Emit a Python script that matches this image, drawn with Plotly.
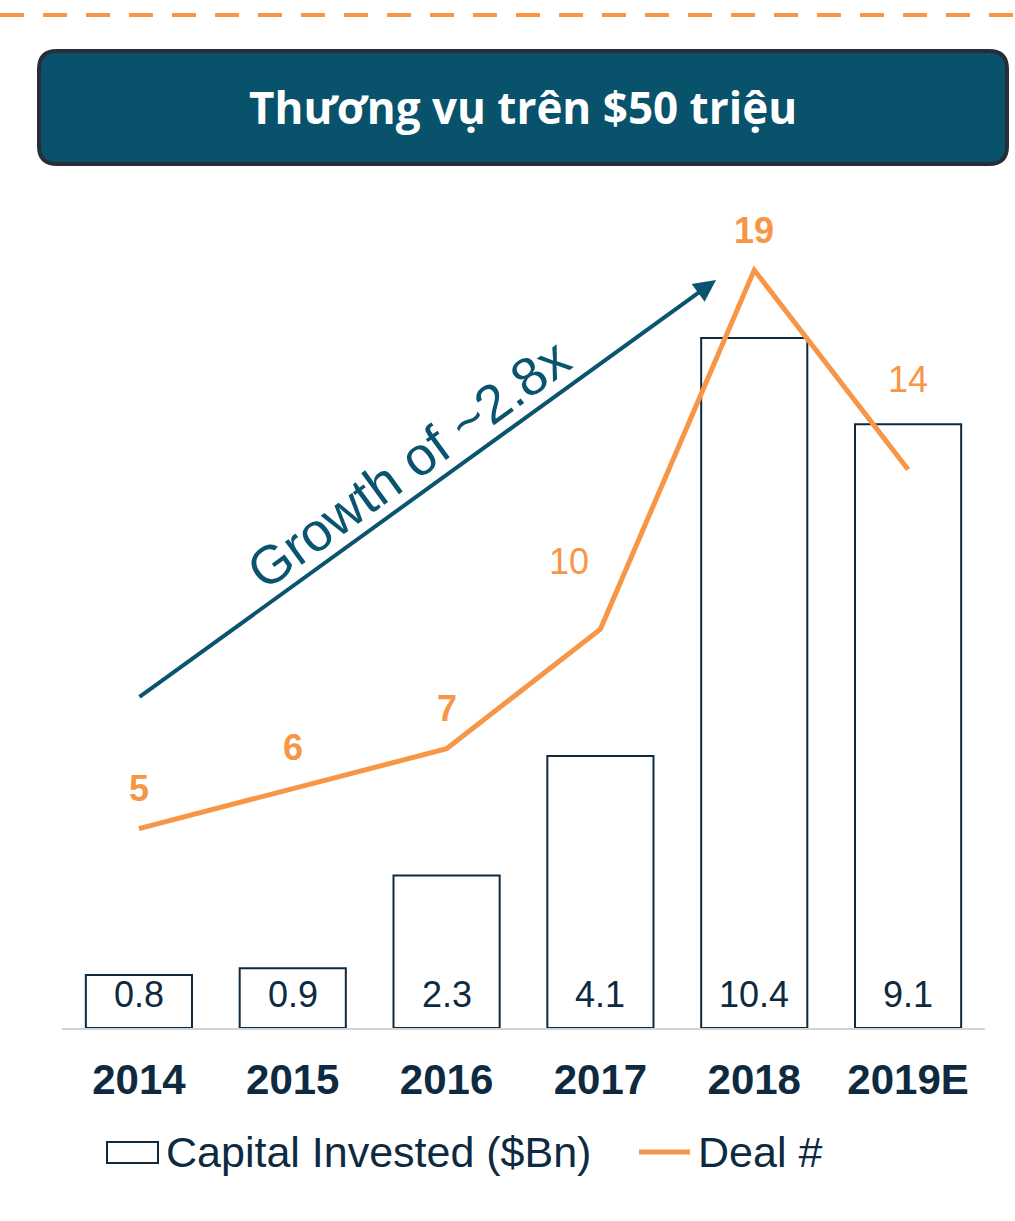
import plotly.graph_objects as go

# ---- data ----
years = ["2014", "2015", "2016", "2017", "2018", "2019E"]
capital_invested = [0.8, 0.9, 2.3, 4.1, 10.4, 9.1]
deal_count = [5, 6, 7, 10, 19, 14]
deal_bold = [True, True, True, False, True, False]
title_text = "Thương vụ trên $50 triệu"
growth_text = "Growth of ~2.8x"

# ---- layout geometry (pixels) ----
W, H = 1015, 1221
PL, PR, PT, PB = 62, 985, 200, 1028
NAVY = "#0e2a40"
TEAL = "#0a5470"
ORANGE = "#F79646"
FONT = "Liberation Sans"

def px2x(px):
    return (px - PL) / (PR - PL)

def px2y(py):
    return (PB - py) / (PB - PT)

bar_range = [0, (PB - PT) / 66.35]
line_range = [0, (PB - PT) / 39.89]
xpos = list(range(len(years)))

fig = go.Figure()
fig.add_trace(go.Bar(
    x=xpos, y=capital_invested, width=0.69,
    marker=dict(color="white", line=dict(color=NAVY, width=2)),
    name="Capital Invested ($Bn)", yaxis="y", hoverinfo="skip",
))
fig.add_trace(go.Scatter(
    x=xpos, y=deal_count, mode="lines",
    line=dict(color=ORANGE, width=5), name="Deal #", yaxis="y2",
    hoverinfo="skip",
))

annotations = []
# bar value labels
for i, v in zip(xpos, capital_invested):
    annotations.append(dict(
        x=i, y=0, xref="x", yref="y", text=f"{v:g}", showarrow=False,
        xanchor="center", yanchor="middle",
        yshift=34, font=dict(family=FONT, size=36, color=NAVY),
    ))
# deal labels
label_offsets = [(0, 40), (0, 41), (0, 40), (-31, 68), (0, 40), (0, 90)]
for i, v, b, (dx, dy) in zip(xpos, deal_count, deal_bold, label_offsets):
    annotations.append(dict(
        x=i, y=v, xref="x", yref="y2", text=(f"<b>{v}</b>" if b else f"{v}"),
        showarrow=False, xshift=dx, yshift=dy, xanchor="center", yanchor="middle",
        font=dict(family=FONT, size=36, color=ORANGE),
    ))
# growth arrow
annotations.append(dict(
    x=px2x(716), y=px2y(280), xref="paper", yref="paper", text="",
    showarrow=True, ax=138 - 716, ay=698 - 280, arrowhead=2, arrowsize=1.1,
    arrowwidth=4, arrowcolor=TEAL,
))
annotations.append(dict(
    x=px2x(408), y=px2y(464), xref="paper", yref="paper", text=growth_text,
    showarrow=False, textangle=-36, xanchor="center", yanchor="middle",
    font=dict(family=FONT, size=54, color=TEAL),
))
# title
annotations.append(dict(
    x=px2x(523), y=px2y(107), xref="paper", yref="paper", text=f"<b>{title_text}</b>",
    showarrow=False, xanchor="center", yanchor="middle",
    font=dict(family="Open Sans", size=44, color="white"),
))
# legend texts
annotations.append(dict(
    x=px2x(164), y=px2y(1152), xref="paper", yref="paper", text="Capital Invested ($Bn)",
    showarrow=False, xanchor="left", yanchor="middle",
    font=dict(family=FONT, size=43, color=NAVY),
))
annotations.append(dict(
    x=px2x(696), y=px2y(1152), xref="paper", yref="paper", text="Deal #",
    showarrow=False, xanchor="left", yanchor="middle",
    font=dict(family=FONT, size=43, color=NAVY),
))

# rounded title box path
def rrect(x0, y0, x1, y1, r):
    pts = [
        f"M {px2x(x0 + r)},{px2y(y0)}",
        f"L {px2x(x1 - r)},{px2y(y0)}",
        f"Q {px2x(x1)},{px2y(y0)} {px2x(x1)},{px2y(y0 + r)}",
        f"L {px2x(x1)},{px2y(y1 - r)}",
        f"Q {px2x(x1)},{px2y(y1)} {px2x(x1 - r)},{px2y(y1)}",
        f"L {px2x(x0 + r)},{px2y(y1)}",
        f"Q {px2x(x0)},{px2y(y1)} {px2x(x0)},{px2y(y1 - r)}",
        f"L {px2x(x0)},{px2y(y0 + r)}",
        f"Q {px2x(x0)},{px2y(y0)} {px2x(x0 + r)},{px2y(y0)}",
        "Z",
    ]
    return " ".join(pts)

shapes = [
    dict(type="line", xref="paper", yref="paper", x0=px2x(0), x1=px2x(1015),
         y0=px2y(15), y1=px2y(15), line=dict(color=ORANGE, width=4, dash="24px,19px")),
    dict(type="path", xref="paper", yref="paper", path=rrect(39, 51, 1007, 164, 18),
         fillcolor="#08526b", line=dict(color="#282d38", width=4)),
    dict(type="rect", xref="paper", yref="paper", x0=px2x(107), x1=px2x(158),
         y0=px2y(1142), y1=px2y(1163), fillcolor="white", line=dict(color=NAVY, width=2)),
    dict(type="line", xref="paper", yref="paper", x0=px2x(639), x1=px2x(690),
         y0=px2y(1152), y1=px2y(1152), line=dict(color=ORANGE, width=5)),
]

fig.update_layout(
    width=W, height=H,
    margin=dict(l=PL, r=W - PR, t=PT, b=H - PB, pad=0),
    paper_bgcolor="white", plot_bgcolor="white",
    showlegend=False,
    xaxis=dict(
        range=[-0.5, 5.5], showgrid=False, zeroline=False,
        tickvals=xpos, ticktext=years,
        showline=True, linecolor="#d4d4d4", linewidth=2,
        ticks="outside", ticklen=14, tickcolor="rgba(0,0,0,0)",
        tickfont=dict(family=FONT, size=42, color=NAVY, weight="bold"),
    ),
    yaxis=dict(range=bar_range, visible=False, fixedrange=True),
    yaxis2=dict(range=line_range, visible=False, overlaying="y", fixedrange=True),
    annotations=annotations,
    shapes=shapes,
)

fig.write_html("out.html", config={"displayModeBar": False},
               post_script="document.body.style.margin='0';")
